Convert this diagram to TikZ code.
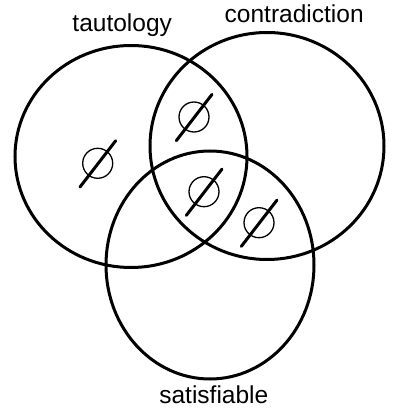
\documentclass[tikz,border=0pt]{standalone}
\usepackage{fontspec}
\setmainfont{Liberation Sans}
\usetikzlibrary{shapes.geometric,calc}
\begin{document}
\begin{tikzpicture}[x=1pt,y=-1pt,
  setring/.style={draw=black,ellipse,line width=3pt,inner sep=0pt},
  emptyring/.style={draw=black,circle,line width=1.3pt,minimum size=30pt,inner sep=0pt},
  emptyslash/.style={line width=3pt,line cap=round},
  lbl/.style={anchor=base,font=\fontsize{24.5}{28}\selectfont,inner sep=0pt}]
\useasboundingbox (0,0) rectangle (415,414);
\node[setring,minimum width=232pt,minimum height=222pt] (taut) at (131,156.5) {};
\node[setring,minimum width=234pt,minimum height=227pt] (contr) at (267,146) {};
\node[setring,minimum width=208pt,minimum height=228pt] (sat) at (210,265) {};
\node[lbl] (ltaut) at (122.2,32) {tautology};
\node[lbl] (lcontr) at (294.2,23) {contradiction};
\node[lbl] (lsat) at (213.8,403) {satisfiable};
\foreach \n/\p in {e1/{(97.7,163.3)},e2/{(194,117)},e3/{(204,191.7)},e4/{(259,222.7)}}{
  \node[emptyring] (\n) at \p {};
  \coordinate (\n a) at ($(\n)+(-17.7,23.7)$);
  \coordinate (\n b) at ($(\n)+(18,-22.6)$);
  \draw[emptyslash] (\n a) -- (\n b);
}
\end{tikzpicture}
\end{document}
